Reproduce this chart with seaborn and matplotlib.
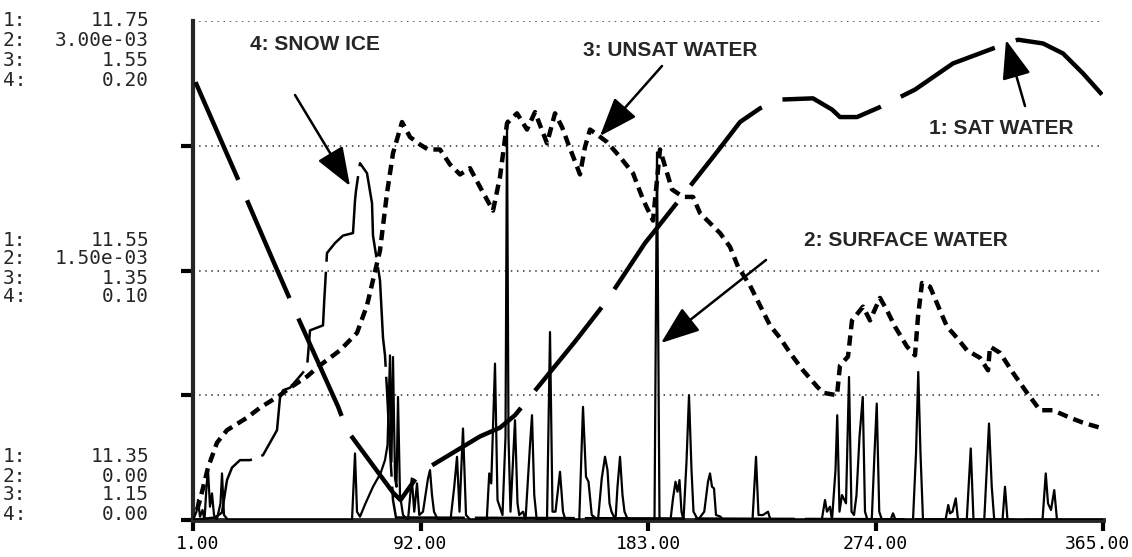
import numpy as np
import pandas as pd
import matplotlib
matplotlib.use("Agg")
import matplotlib.pyplot as plt
import matplotlib.transforms as mtransforms
import seaborn as sns

# ---------------- data ----------------
x_ticks = [1, 92, 183, 274, 365]
x_tick_labels = ["1.00", "92.00", "183.00", "274.00", "365.00"]

sat_range = (11.35, 11.75)
surf_range = (0.0, 3.0e-3)
unsat_range = (1.15, 1.55)
snow_range = (0.0, 0.20)

scale_top = ["11.75", "3.00e-03", "1.55", "0.20"]
scale_mid = ["11.55", "1.50e-03", "1.35", "0.10"]
scale_bot = ["11.35", "0.00", "1.15", "0.00"]

sat_day = [2, 18.6, 33, 42.6, 59, 62.6, 81, 84, 91.8, 115.8, 123.8, 129.8, 153.8,
           166.6, 181.8, 187, 210.6, 219.8, 227.8, 235.8, 249, 256.6, 259.8, 266.6,
           275.8, 289.8, 305, 321, 331, 341, 349, 357, 364.6]
sat_val = [11.701, 11.625, 11.558, 11.514, 11.441, 11.422, 11.372, 11.366, 11.388,
           11.417, 11.424, 11.434, 11.493, 11.526, 11.572, 11.585, 11.645, 11.669,
           11.680, 11.687, 11.688, 11.679, 11.673, 11.673, 11.681, 11.695, 11.716,
           11.728, 11.735, 11.732, 11.724, 11.708, 11.691]

surf_day = [1, 2.4, 3, 3.8, 4.8, 5.6, 6.4, 7, 7.8, 8.6, 9.4, 10.5, 12, 12.6, 13.4, 15,
            64.6, 65.8, 66.6, 67.8, 70, 73, 76, 77.8, 78.8, 79.8, 80.4, 81, 81.8, 82.4,
            83, 83.8, 85, 87, 88.5, 89.5, 90.6, 91.5, 93, 95, 95.8, 96.6, 97.4, 99,
            104, 105.5, 106.6, 107.6, 109, 110.2, 112,
            118.5, 119.5, 120.3, 121.8, 122.8, 124.8, 126, 126.6, 127.2, 128, 129.8,
            130.8, 131.5, 133, 134, 135.8, 136.6, 137.5, 138.5,
            142.6, 143.8, 144.8, 146, 147.8, 149, 150,
            155.5, 157, 158.2, 159.2, 160.5, 163, 164.5, 165.8, 166.8, 167.6, 168.4,
            170, 170.8, 171.8, 172.8, 173.6, 175,
            185.6, 186.6, 187.6,
            192, 193, 194, 194.8, 195.6, 196.4, 197.2, 198.4, 199.4, 200.4, 201.2, 203,
            205.5, 207, 207.8, 208.6, 209.4, 210.2, 212, 213,
            224.8, 226.2, 227.2, 229, 231, 232,
            252.5, 253.8, 254.6, 255.8, 256.6, 258, 258.7, 259.6, 260.6, 262.2, 263.4,
            264.4, 265.4, 266.4, 267.6, 268.9, 269.8, 270.8, 272.5, 273.6, 274.5, 275.5,
            276.6, 280, 281, 282, 289, 290.2, 291.1, 292, 293,
            302, 303.1, 303.8, 304.8, 306.1, 307, 310.5, 312.1, 313.2, 317.5, 318.5,
            319.4, 320.5, 321.5, 324.8, 325.8, 326.8,
            340.8, 342.1, 343, 344.2, 345.5, 346.6, 365]
surf_val_e4 = [0, 0.5, 1.2, 0.2, 0.6, 0, 2.0, 3.0, 0.8, 1.6, 0.3, 0, 1.0, 2.8, 0.3, 0,
               0, 4.0, 0.5, 0.2, 1.0, 2.0, 2.8, 3.6, 4.5, 9.9, 3.5, 9.8, 2.5, 2.0,
               7.4, 1.5, 0.3, 0, 2.5, 0.5, 2.2, 0.3, 0.5, 2.5, 3.0, 1.5, 0.5, 0,
               0, 2.0, 3.8, 0.5, 5.5, 0.3, 0,
               0, 2.8, 2.2, 9.4, 1.2, 0.3, 5.0, 24.0, 5.0, 0.5, 6.0,
               1.0, 0.3, 0.5, 0, 4.5, 6.3, 1.5, 0,
               0, 11.3, 0.5, 0.5, 2.9, 0.5, 0,
               0, 6.8, 2.6, 2.3, 0.3, 0, 2.5, 3.8, 3.0, 1.0, 0.5,
               0, 2.0, 3.8, 1.5, 0.5, 0,
               0, 22.1, 0,
               0, 1.3, 2.3, 1.7, 2.4, 0.5, 0, 3.5, 7.5, 3.0, 0.5, 0,
               0.5, 2.3, 2.8, 2.0, 1.9, 0.3, 0.2, 0,
               0, 3.8, 0.3, 0.3, 0.5, 0,
               0, 1.2, 0.5, 0.8, 0, 3.0, 6.3, 0.5, 1.5, 1.0, 8.6,
               0.5, 0.3, 1.5, 5.0, 7.4, 0.5, 0, 0, 4.0, 7.0, 0.5,
               0, 0, 0.4, 0, 0, 4.0, 8.9, 4.0, 0,
               0, 0.9, 0.4, 0.5, 1.3, 0, 0, 4.3, 0, 0, 3.0,
               5.8, 2.0, 0, 0, 2.0, 0,
               0, 2.8, 1.0, 0.6, 1.8, 0, 0]
surf_val = [v * 1e-4 for v in surf_val_e4]

unsat_day = [2.6, 3.8, 7, 10.6, 14.6, 22.6, 27.8, 35.8, 39.8, 46.6, 51.8, 59.8, 66.6,
             70.6, 75.8, 78.6, 81, 84.6, 87.8, 91.8, 95, 99.8, 103.8, 107.8, 111.8,
             115.8, 121, 123.8, 126.6, 130.6, 134.6, 137.8, 142.6, 145.8, 148.6, 151,
             155.8, 157.8, 159.8, 162.6, 166.6, 171.8, 177, 181, 185, 187.8, 192.6,
             197, 201, 203.8, 207.8, 211.8, 215.8, 219, 223.8, 227.8, 231.8, 235.8,
             239.8, 245, 250.6, 253, 258.6, 259.8, 263, 264.6, 269, 271.8, 275.8,
             278.6, 281.8, 286.6, 289.8, 291, 292.6, 295.8, 299.8, 302.6, 306.6,
             310.6, 315.8, 319, 319.8, 323.8, 329, 334.6, 339.8, 345, 351.8, 357, 363.8]
unsat_val = [1.158, 1.166, 1.192, 1.212, 1.222, 1.232, 1.240, 1.250, 1.256, 1.265,
             1.274, 1.286, 1.300, 1.322, 1.366, 1.412, 1.444, 1.469, 1.457, 1.451,
             1.447, 1.447, 1.435, 1.427, 1.432, 1.417, 1.398, 1.425, 1.468, 1.476,
             1.463, 1.477, 1.452, 1.476, 1.465, 1.452, 1.427, 1.449, 1.463, 1.459,
             1.453, 1.441, 1.428, 1.407, 1.390, 1.447, 1.415, 1.409, 1.409, 1.396,
             1.388, 1.380, 1.369, 1.353, 1.338, 1.322, 1.306, 1.296, 1.284, 1.270,
             1.257, 1.252, 1.250, 1.274, 1.281, 1.310, 1.321, 1.310, 1.328, 1.318,
             1.305, 1.289, 1.282, 1.313, 1.340, 1.337, 1.318, 1.305, 1.296, 1.286,
             1.280, 1.270, 1.289, 1.284, 1.268, 1.252, 1.238, 1.238, 1.232, 1.228,
             1.224]

snow_day = [1, 9.8, 12.6, 14.6, 16.6, 19.8, 23.8, 29, 31.8, 34.6, 35.8, 37, 39.8,
            46.6, 47.8, 53, 53.5, 54.6, 57.8, 61, 65, 65.8, 66.2, 67.8, 70.6, 72.6,
            73, 75.8, 77, 77.8, 78.6, 79.8, 81, 82.2, 365]
snow_val = [0, 0.001, 0.003, 0.016, 0.021, 0.024, 0.024, 0.026, 0.031, 0.036, 0.049,
            0.052, 0.053, 0.061, 0.076, 0.078, 0.088, 0.107, 0.111, 0.114, 0.115,
            0.128, 0.132, 0.143, 0.139, 0.127, 0.114, 0.096, 0.073, 0.066, 0.052,
            0.028, 0.008, 0.001, 0]

# ---------------- figure ----------------
sns.set_theme(style="ticks")
plt.rcParams["font.family"] = ["Liberation Sans", "DejaVu Sans"]
MONO = ["DejaVu Sans Mono", "DejaVu Sans"]

W, H = 1132, 557
fig = plt.figure(figsize=(W / 100, H / 100), dpi=100)
fig.patch.set_facecolor("white")
x0, x1, ytop, ybot = 193, 1103, 21, 520
ax = fig.add_axes([x0 / W, (H - ybot) / H, (x1 - x0) / W, (ybot - ytop) / H])
ax.set_xlim(1, 365)
ax.set_ylim(0, 4)
ax.set_facecolor("white")

for lvl in [1, 2, 3, 4]:
    ax.axhline(lvl, color="0.2", lw=1.1, linestyle=(0, (1, 3)), zorder=0)

for s in ["top", "right"]:
    ax.spines[s].set_visible(False)
ax.spines["left"].set_linewidth(3)
ax.spines["bottom"].set_linewidth(3.5)
ax.set_xticks(x_ticks)
ax.set_xticklabels(x_tick_labels, fontsize=13, family=MONO)
ax.set_yticks([0, 1, 2, 3])
ax.set_yticklabels([])
ax.tick_params(axis="x", direction="out", length=8, width=3, pad=3, colors="black")
ax.tick_params(axis="y", direction="out", length=9, width=3, colors="black")
ax.set_xlabel("")
ax.set_ylabel("")
# nudge the first and last tick labels inward like the reference
labs = ax.get_xticklabels()
labs[0].set_transform(labs[0].get_transform() +
                      mtransforms.ScaledTranslation(5 / 100, 0, fig.dpi_scale_trans))
labs[-1].set_transform(labs[-1].get_transform() +
                       mtransforms.ScaledTranslation(-6 / 100, 0, fig.dpi_scale_trans))

specs = [
    (sat_day, sat_val, sat_range, 3.2, (0, (24, 5))),
    (surf_day, surf_val, surf_range, 1.6, "-"),
    (unsat_day, unsat_val, unsat_range, 3.2, (0, (2.3, 1.4))),
    (snow_day, snow_val, snow_range, 1.8, (0, (40, 4))),
]
for d, v, rng, lw, ls in specs:
    a = ax.twinx()
    df = pd.DataFrame({"day": d, "value": v})
    sns.lineplot(data=df, x="day", y="value", ax=a, color="black", lw=lw,
                 linestyle=ls, sort=False, estimator=None, legend=False)
    a.set_ylim(*rng)
    a.set_xlim(1, 365)
    a.axis("off")

# ---------------- left scale labels ----------------
blocks = [(scale_top, [20, 40, 60, 80]),
          (scale_mid, [240, 259, 278, 297]),
          (scale_bot, [457, 476, 495, 515])]
for labels, ys in blocks:
    for i, (lab, yy) in enumerate(zip(labels, ys)):
        fig.text(3 / W, 1 - yy / H, f"{i + 1}:", fontsize=14, family=MONO,
                 ha="left", va="center")
        fig.text(149 / W, 1 - yy / H, lab, fontsize=14, family=MONO,
                 ha="right", va="center")

# ---------------- annotations ----------------
notes = [
    ("4: SNOW ICE", (315, 45), (295, 95), (350, 186)),
    ("3: UNSAT WATER", (670, 50), (662, 66), (600, 136)),
    ("1: SAT WATER", (1001, 128), (1025, 106), (1006, 40)),
    ("2: SURFACE WATER", (906, 240), (766, 260), (661, 343)),
]
for text, tpos, tail, head in notes:
    fig.text(tpos[0] / W, 1 - tpos[1] / H, text, fontsize=15, fontweight="bold",
             ha="center", va="center")
    ax.annotate("", xy=(head[0], H - head[1]), xycoords="figure pixels",
                xytext=(tail[0], H - tail[1]), textcoords="figure pixels",
                arrowprops=dict(arrowstyle="-|>,head_length=1.2,head_width=0.45",
                                mutation_scale=20, color="black", lw=1.8,
                                shrinkA=0, shrinkB=0))

fig.savefig("out.png", dpi=100, facecolor="white")
